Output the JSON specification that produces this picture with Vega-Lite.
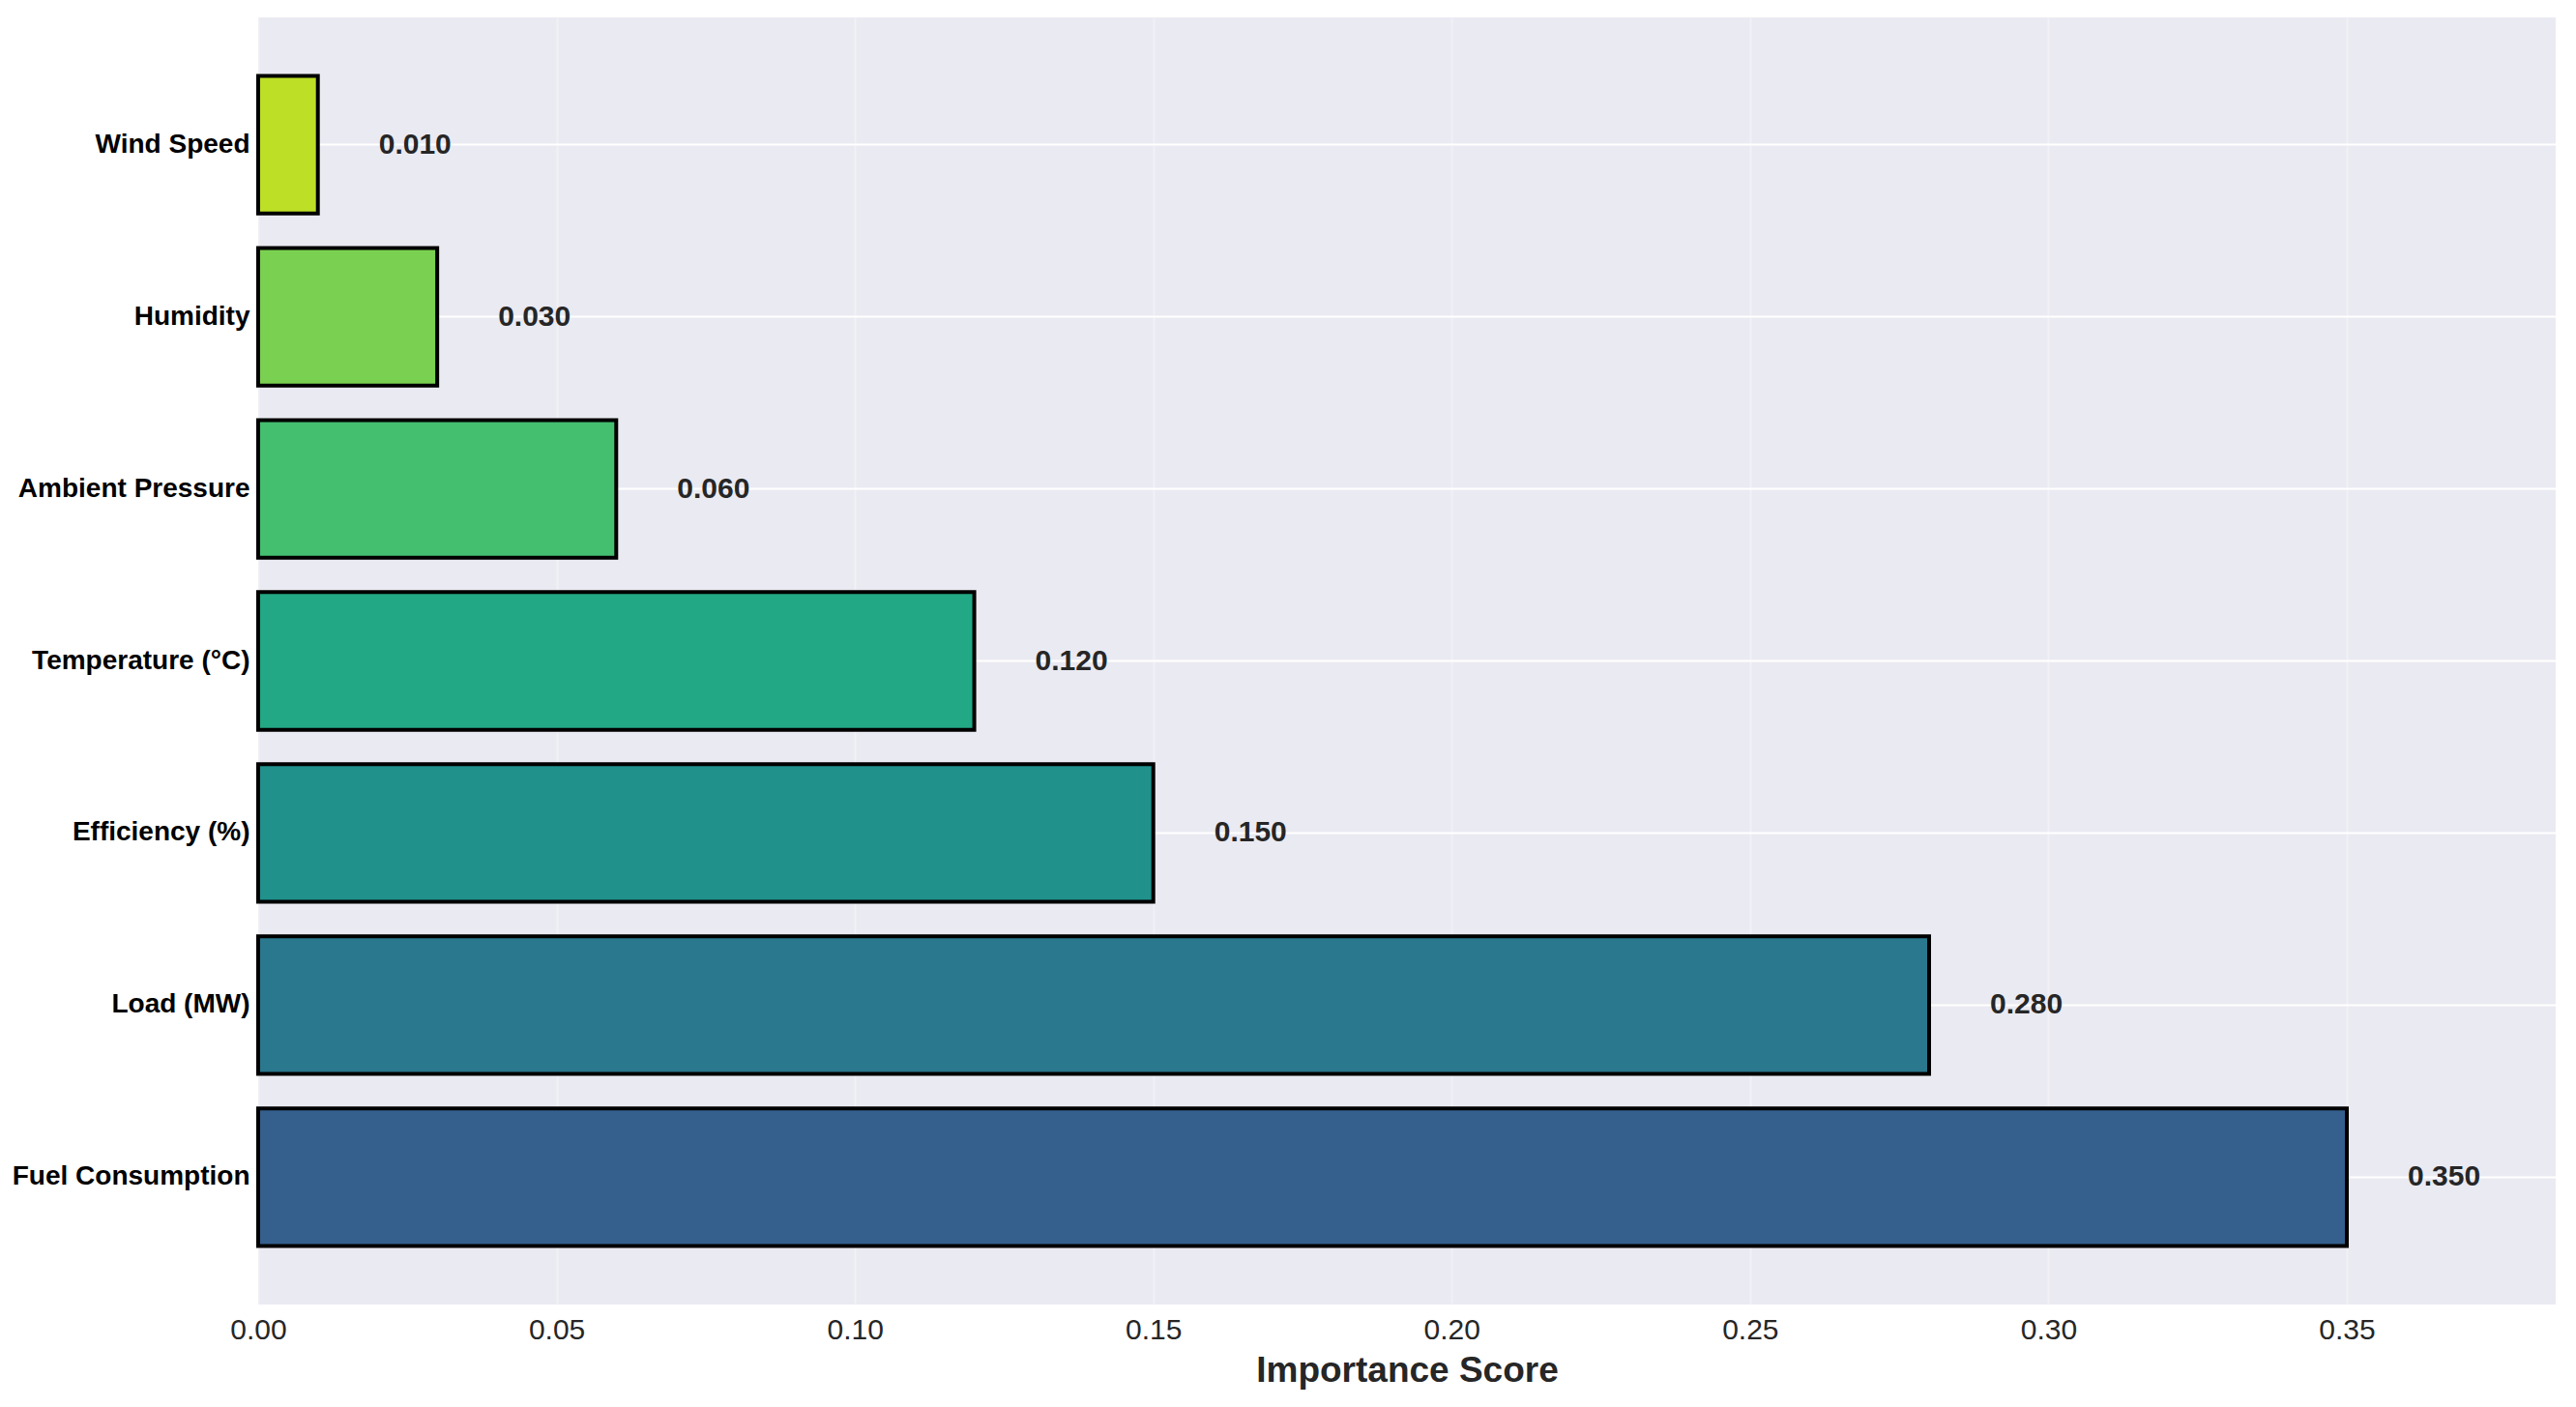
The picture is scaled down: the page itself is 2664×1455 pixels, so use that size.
{
  "$schema": "https://vega.github.io/schema/vega-lite/v6.json",
  "width": 2376,
  "height": 1331,
  "autosize": {"type": "none"},
  "padding": {"left": 267, "top": 18, "right": 21, "bottom": 106},
  "background": "white",
  "config": {
    "font": "Liberation Sans",
    "view": {"fill": "#EAEAF2", "stroke": null}
  },
  "data": {
    "values": [
      {"feature": "Fuel Consumption", "importance": 0.35},
      {"feature": "Load (MW)", "importance": 0.28},
      {"feature": "Efficiency (%)", "importance": 0.15},
      {"feature": "Temperature (°C)", "importance": 0.12},
      {"feature": "Ambient Pressure", "importance": 0.06},
      {"feature": "Humidity", "importance": 0.03},
      {"feature": "Wind Speed", "importance": 0.01}
    ]
  },
  "encoding": {
    "y": {
      "field": "feature",
      "type": "nominal",
      "sort": ["Wind Speed", "Humidity", "Ambient Pressure", "Temperature (°C)", "Efficiency (%)", "Load (MW)", "Fuel Consumption"],
      "scale": {"paddingInner": 0.2, "paddingOuter": 0.34},
      "axis": {
        "title": null,
        "labelFontSize": 28,
        "labelFontWeight": "bold",
        "labelColor": "black",
        "labelPadding": 9,
        "labelLimit": 0,
        "ticks": false,
        "domain": false,
        "grid": true,
        "gridColor": "white",
        "gridWidth": 2,
        "bandPosition": 0.5
      }
    },
    "x": {
      "field": "importance",
      "type": "quantitative",
      "scale": {"domain": [0, 0.385], "nice": false},
      "axis": {
        "title": "Importance Score",
        "values": [0, 0.05, 0.1, 0.15, 0.2, 0.25, 0.3, 0.35],
        "format": ".2f",
        "labelFontSize": 30,
        "labelColor": "#262626",
        "labelPadding": 11,
        "labelFlush": false,
        "ticks": false,
        "domain": false,
        "grid": true,
        "gridColor": "white",
        "gridOpacity": 0.3,
        "gridWidth": 2,
        "titleFontSize": 37,
        "titleFontWeight": "bold",
        "titleColor": "#262626",
        "titlePadding": 9
      }
    }
  },
  "layer": [
    {
      "mark": {"type": "bar", "stroke": "black", "strokeWidth": 4},
      "encoding": {
        "color": {
          "field": "feature",
          "type": "nominal",
          "scale": {
            "domain": ["Fuel Consumption", "Load (MW)", "Efficiency (%)", "Temperature (°C)", "Ambient Pressure", "Humidity", "Wind Speed"],
            "range": ["#355F8D", "#2A788E", "#21918C", "#22A884", "#44BF70", "#7AD151", "#BDDF26"]
          },
          "legend": null
        }
      }
    },
    {
      "mark": {"type": "text", "align": "left", "baseline": "middle", "dx": 63, "fontSize": 30, "fontWeight": "bold", "color": "#262626"},
      "encoding": {
        "text": {"field": "importance", "type": "quantitative", "format": ".3f"}
      }
    }
  ]
}
